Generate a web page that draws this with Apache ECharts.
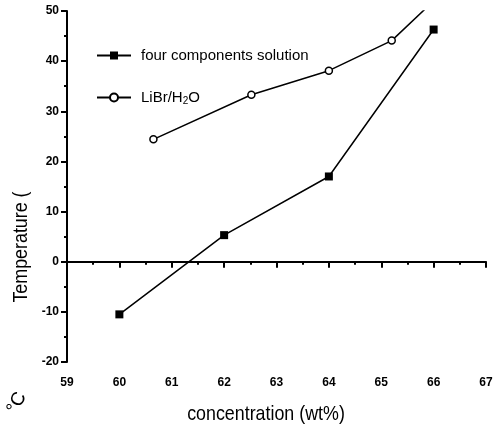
<!DOCTYPE html>
<html><head><meta charset="utf-8">
<script src="https://cdn.jsdelivr.net/npm/echarts@6/dist/echarts.min.js"></script>
<style>html,body{margin:0;padding:0;background:#fff}#c{width:499px;height:433px}</style>
</head><body><div id="c"></div>
<script>
const fourX = [60, 62, 64, 66];
const fourY = [-10.5, 5.3, 17, 46.3];
const libX = [60.65, 62.52, 64.0, 65.2, 66.0];
const libY = [24.4, 33.3, 38.1, 44.1, 52.0];
const xTicks = [59, 60, 61, 62, 63, 64, 65, 66, 67];
const yTicks = [-20, -10, 0, 10, 20, 30, 40, 50];

const FONT = "'Liberation Sans', Arial, sans-serif";
const chart = echarts.init(document.getElementById('c'));
const zip = (a, b) => a.map((v, i) => [v, b[i]]);
chart.setOption({
  animation: false,
  backgroundColor: '#fff',
  grid: { left: 67, right: 13, top: 11, bottom: 71 },
  legend: {
    orient: 'vertical', left: 91, top: 43, itemGap: 27, itemWidth: 34, itemHeight: 10,
    textStyle: { fontFamily: FONT, fontSize: 15, color: '#000', padding: [0, 0, 0, 5],
      rich: { sub: { fontSize: 10, verticalAlign: 'bottom', padding: [8, 0, 0, 0], fontFamily: FONT } } },
    formatter: n => n === 'LiBr/H2O' ? 'LiBr/H{sub|2}O' : n,
    data: ['four components solution', 'LiBr/H2O']
  },
  xAxis: {
    type: 'value', min: 59, max: 67, interval: 1,
    axisLine: { show: true, lineStyle: { color: '#000', width: 2 } },
    axisTick: { show: true, inside: false, length: 6, lineStyle: { color: '#000', width: 2 } },
    minorTick: { show: true, splitNumber: 2, length: 3, lineStyle: { color: '#000', width: 2 } },
    splitLine: { show: false },
    axisLabel: { color: '#000', fontFamily: FONT, fontWeight: 'bold', fontSize: 12, margin: 15,
      formatter: v => xTicks.includes(v) ? String(v) : '' }
  },
  yAxis: {
    type: 'value', min: -20, max: 50, interval: 10,
    axisLine: { show: true, lineStyle: { color: '#000', width: 2 } },
    axisTick: { show: true, inside: false, length: 6, lineStyle: { color: '#000', width: 2 } },
    minorTick: { show: true, splitNumber: 2, length: 3, lineStyle: { color: '#000', width: 2 } },
    splitLine: { show: false },
    axisLabel: { color: '#000', fontFamily: FONT, fontWeight: 'bold', fontSize: 12, margin: 8,
      formatter: v => yTicks.includes(v) ? String(v) : '' }
  },
  graphic: [
    { type: 'text', x: 21, y: 247, rotation: Math.PI / 2, scaleX: 0.85,
      style: { text: 'Temperature (', fontFamily: FONT, fontSize: 21, fill: '#000', align: 'center', verticalAlign: 'middle' } },
    { type: 'text', x: 17, y: 403, rotation: 1.1,
      style: { text: '°C', fontFamily: FONT, fontSize: 19, fill: '#000', align: 'center', verticalAlign: 'middle' } },
    { type: 'text', x: 266, y: 414, scaleX: 0.85,
      style: { text: 'concentration (wt%)', fontFamily: FONT, fontSize: 21, fill: '#000', align: 'center', verticalAlign: 'middle' } }
  ],
  series: [
    { name: 'four components solution', type: 'line', data: zip(fourX, fourY), clip: true,
      symbol: 'rect', symbolSize: 8, itemStyle: { color: '#000' }, lineStyle: { color: '#000', width: 1.5 } },
    { name: 'LiBr/H2O', type: 'line', data: zip(libX, libY), clip: true,
      symbol: 'circle', symbolSize: 7, itemStyle: { color: '#fff', borderColor: '#000', borderWidth: 1.5 }, lineStyle: { color: '#000', width: 1.5 } }
  ]
});
</script></body></html>
